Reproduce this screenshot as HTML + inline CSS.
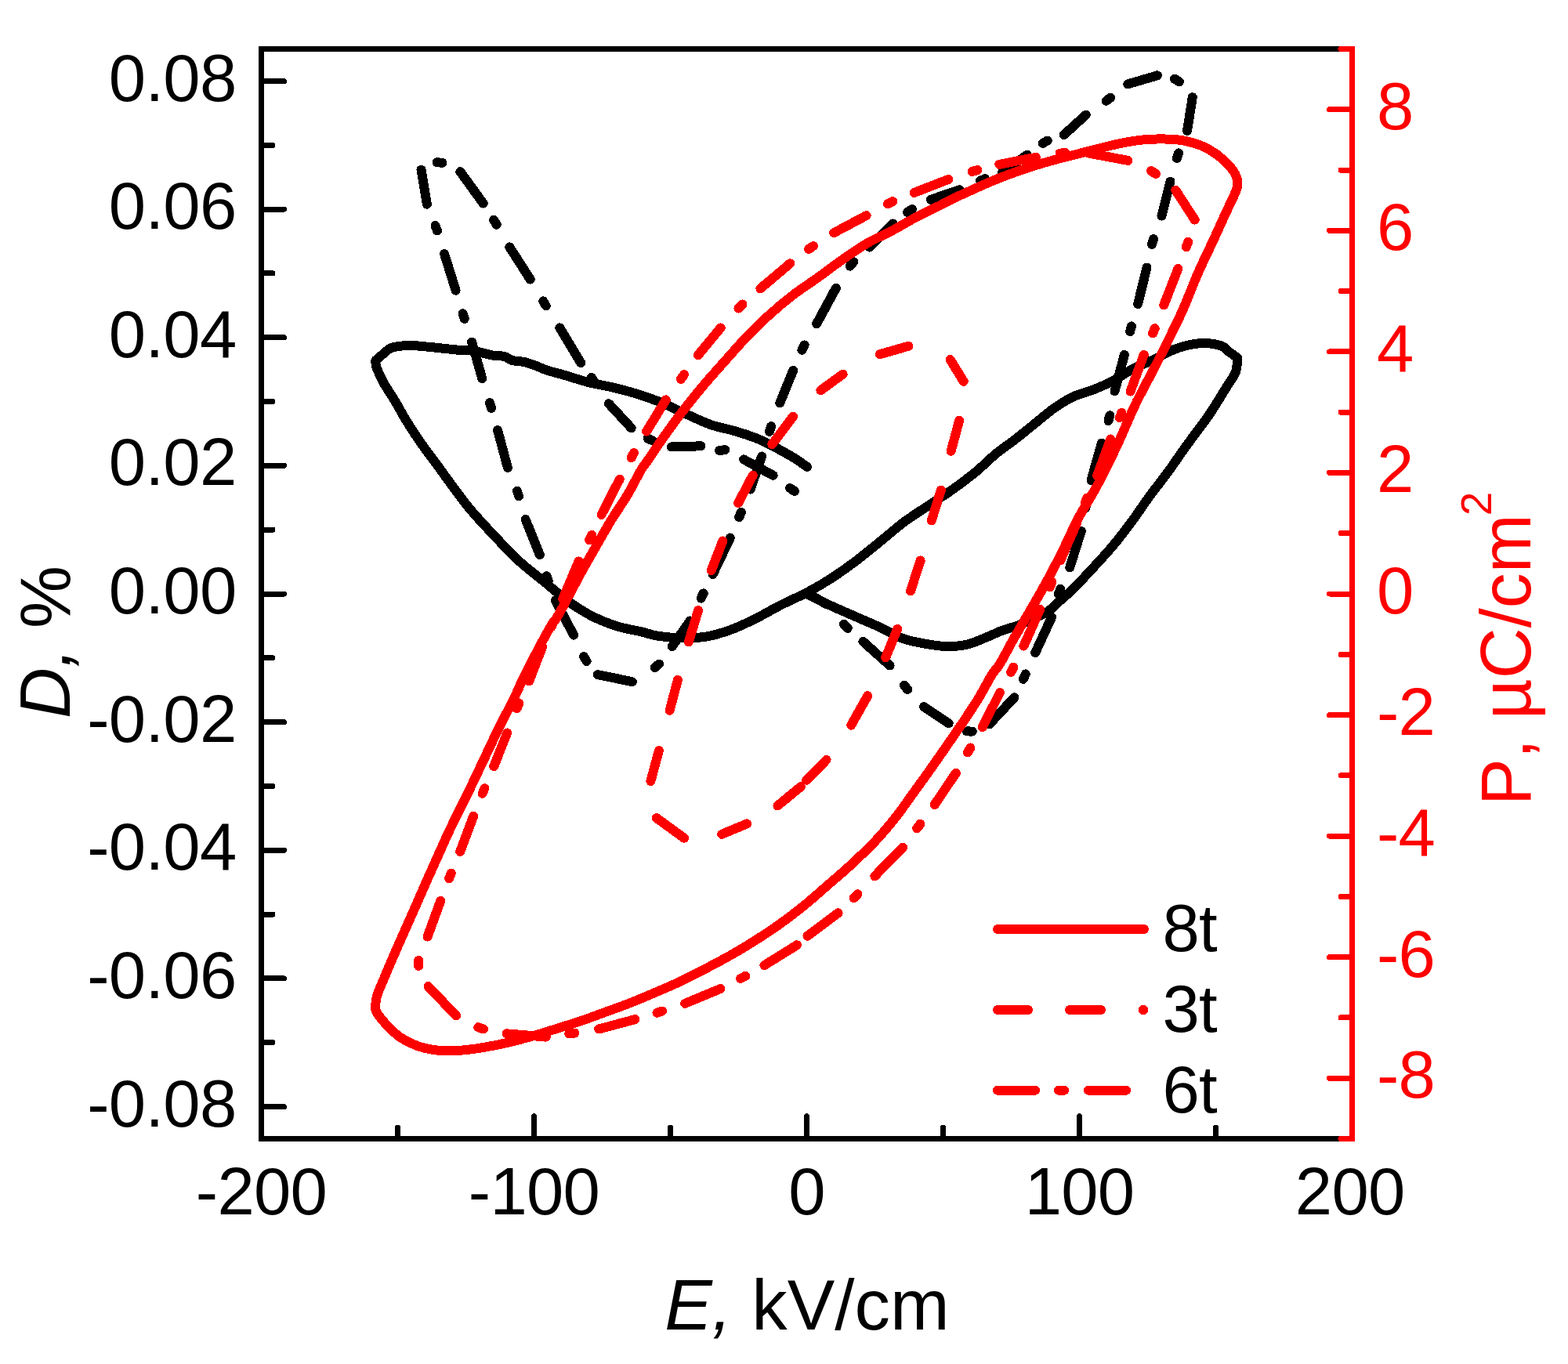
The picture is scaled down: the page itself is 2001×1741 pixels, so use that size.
<!DOCTYPE html>
<html lang="en">
<head>
<meta charset="utf-8">
<title>D and P versus E</title>
<style>
html,body{margin:0;padding:0;background:#fff;}
body{width:2001px;height:1741px;overflow:hidden;}
svg{display:block;}
text{font-family:"Liberation Sans", Arial, Helvetica, sans-serif;font-kerning:none;}
.tk{font-size:85px;letter-spacing:-0.7px;}
.tt{font-size:90px;}
.c{fill:none;stroke-width:12;stroke-linecap:round;stroke-linejoin:round;}
.a{fill:none;stroke-width:7;stroke-linecap:round;}
.i{font-style:italic;}
</style>
</head>
<body>
<svg width="2001" height="1741" viewBox="0 0 2001 1741" shape-rendering="crispEdges">
<rect width="2001" height="1741" fill="#fff"/>
<g class="c" stroke="#000">
<path d="M1029.5 758C1034.6 760.5 1049.7 768.2 1060 773C1070.3 777.8 1080.8 782.2 1091.2 786.8C1101.6 791.4 1112.1 795.7 1122.5 800.5C1132.9 805.3 1143.3 811.9 1153.7 815.5C1164.1 819.1 1175.5 820.8 1184.9 822.4C1194.3 824 1201.6 825.1 1209.9 825.1C1218.2 825.1 1226.6 824.4 1234.9 822.4C1243.2 820.4 1252.6 815.9 1259.9 813C1267.2 810.1 1271.9 807.4 1278.6 804.9C1285.3 802.4 1293.4 800.6 1300 798C1306.6 795.4 1312 792.3 1318 789.5C1324 786.7 1330.4 785 1336.2 781.2C1342 777.4 1347.6 771.3 1353 766.5C1358.4 761.7 1362.1 758.9 1368.7 752.4C1375.3 745.9 1383.8 736.8 1392.5 727.4C1401.2 718 1411.9 706.6 1420.6 696.2C1429.3 685.8 1437.2 675.3 1444.9 664.9C1452.6 654.5 1459.2 644.1 1466.8 633.7C1474.4 623.3 1482.9 612.9 1490.5 602.5C1498.1 592.1 1504.9 581.6 1512.4 571.2C1519.9 560.8 1529.7 548 1535.5 540C1541.3 532 1542 531.2 1547 523.5C1552 515.8 1560.5 501.8 1565.5 493.7C1570.5 485.6 1574.5 481.1 1576.8 475C1579.1 468.9 1578.9 459.8 1579.3 456.8C1577.4 455.4 1571.4 451.2 1568 448.7C1564.6 446.1 1564 443.3 1558.7 441.5C1553.4 439.7 1543.7 438.1 1536.2 438C1528.7 437.9 1520.6 439.6 1513.7 441.2C1506.8 442.8 1502.3 444.4 1495 447.5C1487.7 450.6 1478.3 456.1 1470 460C1461.7 463.9 1453.3 466.8 1445 471.2C1436.7 475.6 1428.3 481.8 1420 486.2C1411.7 490.6 1403.3 494.2 1395 497.5C1386.7 500.8 1378.3 502.2 1370 506.2C1361.7 510.1 1353.3 515.4 1345 521.2C1336.7 527 1328.3 534.5 1320 541.2C1311.7 547.9 1303.3 554.7 1295 561.2C1286.7 567.7 1278.3 573.1 1270 580C1261.7 586.9 1254 595.1 1245 602.5C1236 609.9 1226.2 617.3 1216.2 624.4C1206.2 631.5 1195.3 638.2 1184.9 645.2C1174.5 652.2 1164.1 658.5 1153.7 666.3C1143.3 674.1 1132.9 683.4 1122.5 691.8C1112.1 700.2 1101.6 709 1091.2 716.8C1080.8 724.6 1070.2 732.1 1060 738.7C1049.8 745.3 1040.5 750.6 1029.9 756.2C1019.3 761.8 1007 766.9 996.2 772.4C985.4 777.9 975.3 784.1 964.9 789.3C954.5 794.5 944.1 799.5 933.7 803.4C923.3 807.2 912.9 810.6 902.5 812.4C892.1 814.2 881.6 814.4 871.2 814.3C860.8 814.2 848.8 813.1 840 811.8C831.2 810.5 827.4 808.5 818.6 806.4C809.8 804.3 797.8 802.6 787.4 799.3C777 796 766.6 792.1 756.2 786.8C745.8 781.5 735.3 774.9 724.9 767.4C714.5 759.9 704.1 750.3 693.7 741.8C683.3 733.3 672.9 725.8 662.5 716.2C652.1 706.6 641.6 695.3 631.2 684.3C620.8 673.3 609.7 661.6 600 650C590.3 638.4 580.1 624 573.1 614.6C566.1 605.2 563.2 600.6 558.1 593.7C553 586.8 547.4 579.8 542.5 573C537.6 566.2 533.1 559.6 528.7 553C524.3 546.4 520.4 540.1 516.2 533.1C512 526.1 508.1 518.5 503.7 511.2C499.3 503.9 493.9 496.3 490 489.3C486.1 482.3 482.3 473.9 480.5 469C478.7 464.1 479.6 461.5 479.4 460C481.4 458.3 487.8 452.7 491.2 450C494.6 447.3 494.8 445.2 500 443.7C505.2 442.2 514.2 441.1 522.5 441C530.8 440.9 540 442.2 550 443.1C560 444 574.5 445.8 582.4 446.5C590.3 447.2 592.8 446.8 597.4 447.2C602 447.6 604.7 447.9 609.9 449C615.1 450.1 623.1 452.5 628.7 453.5C634.3 454.5 639.5 453.9 643.7 455C647.9 456.1 649.4 458.8 653.7 460C658 461.2 664.3 461 669.3 462.1C674.3 463.2 678.9 465.1 683.6 466.8C688.3 468.5 693 471 697.4 472.5C701.8 474 706.2 475 710 476C713.8 477 713.1 476.7 720 478.7C726.9 480.7 740.8 485.5 751.2 488.1C761.6 490.8 772.1 492.1 782.5 494.6C792.9 497.1 803.3 499.8 813.7 503.1C824.1 506.4 834.5 510 844.9 514.3C855.3 518.6 865.8 524.1 876.2 528.7C886.6 533.4 897 538.6 907.4 542.2C917.8 545.8 928.2 547.3 938.6 550.5C949 553.7 958.1 556.1 970 561.4C981.9 566.7 1000 576.7 1010 582.5C1020 588.3 1026.7 593.8 1030 596"/>
<path d="M1036.4 760.3L1054.6 771.2M1077 796.9L1081.8 801.9M1101.4 818.9L1135.6 849.5M1153.8 874.6L1158.2 880M1179 902.1L1210.6 923.2M1233.8 933.4L1240.8 933.6M1262.6 924.4L1294.5 890.2M1305.8 866.8L1308.8 860.4M1321.2 833.1L1342.1 787.9M1350.8 758.3L1353.2 751.7M1365.2 724.5L1379.8 677.9M1385.3 648.4L1386.7 641.6M1392.5 613.2L1405.9 565.5M1414.5 537.1L1416.3 530.3M1422.5 499.3L1434.9 452.8M1442.1 423.2L1443.9 416.4M1452.1 388.1L1463.5 341.6M1470 312L1472 305.2M1482.5 275.6L1493.5 231.7M1501.9 202L1504.1 195.4M1515 167L1521.8 124.2M1504.9 104.3L1498.9 100.7M1476.9 96.3L1439.2 107.4M1417.2 124.6L1411.6 128.8M1385.8 146.5L1357.8 172.1M1336.8 179.5L1330.6 182.9M1310.8 197.7L1279.1 219.7M1257.2 228.2L1250.8 230.8M1224.5 242.2L1187.9 254.8M1164 267.1L1158 270.9M1139.6 285.4L1109.8 315.6M1089.2 334.2L1084.8 339.6M1066.8 367.8L1042.2 413.2M1026.6 440.5L1023.4 446.7M1012.2 472.8L995.2 514.5M984.1 544.2L981.9 550.8M972.2 582.5L957.6 624.5M945.8 653.8L943.2 660.2M931.8 686.5L909.7 733.1M897.7 757.4L894.7 763.6M880.7 792.4L857.7 825.1M841.1 847.5L835.9 852.1M806.8 870.2L762.8 861.1M748.6 844L745 838M732.1 810.6L708.8 766.4M699.7 741.9L697.5 735.3M688.8 708.1L670.6 662.9M662.1 633.3L659.9 626.7M647.9 597L635.1 549.2M627 520.9L625 514.1M615.3 483.1L602.1 436.5M592.7 406.9L590.7 400.3M581.6 370.6L567.1 324.2M557.9 294.5L555.5 287.9M544.9 260.7L537.5 216.7M557.5 207.3L564.5 207.7M587.3 219.1L616.7 259.6M630.2 280.7L633.8 286.7M650.3 315.4L676.7 356.6M693.2 384.4L696.8 390.4M714.3 418.4L741.3 463.2M754.6 481.9L758.6 487.7M776.9 515.2L805.7 546.4M826.6 559.5L833 562.5M856.7 570.5L894.5 569.3M918.2 575.1L925.2 574.1M949.1 586.4L986.6 606.8M1008.1 623L1013.9 627"/>
</g>
<g class="c" stroke="#ff0000">
<path d="M479 1285C479.3 1282.7 479.4 1276.6 481 1271.2C482.6 1265.8 485 1260.8 488.5 1252.5C492 1244.2 497.3 1231.6 501.8 1221.2C506.3 1210.8 510.8 1200.8 515.6 1190C520.4 1179.2 525.8 1167 530.6 1156.2C535.4 1145.4 539.7 1135.3 544.3 1124.9C548.9 1114.5 553.6 1104.1 558.3 1093.7C563 1083.3 567.5 1072.9 572.4 1062.5C577.3 1052.1 582.6 1041.6 587.7 1031.2C592.8 1020.8 597 1012.5 603 1000C609 987.5 617.8 968.7 623.7 956.2C629.7 943.7 633.5 935.3 638.7 924.9C643.9 914.5 649.8 904.1 654.9 893.7C660 883.3 664.2 872.9 669.3 862.5C674.4 852.1 680 841.6 685.5 831.2C691 820.8 698.1 807.3 702.4 800C706.7 792.7 706.9 794.7 711.2 787.4C715.5 780.1 722.5 766.6 728.1 756.2C733.7 745.8 739.1 735.3 744.9 724.9C750.7 714.5 756.7 704.1 762.7 693.7C768.7 683.3 774.5 672.9 780.9 662.5C787.3 652.1 794.9 641.6 801.1 631.2C807.3 620.8 813.7 607.3 818 600C822.3 592.7 821.8 594.7 826.8 587.4C831.8 580.1 840.7 566.6 848.1 556.2C855.5 545.8 863.2 535.3 871.2 524.9C879.2 514.5 887.5 504.1 896.2 493.7C904.9 483.3 914.3 472.9 923.6 462.5C932.9 452.1 942.2 441.2 951.8 431.2C961.4 421.2 971.1 411.6 981.2 402.4C991.3 393.2 1002.1 384.2 1012.5 376.2C1022.9 368.2 1033.3 361.8 1043.7 354.3C1054.1 346.9 1064.5 338.8 1074.9 331.5C1085.3 324.2 1095.8 316.8 1106.2 310.7C1116.6 304.6 1127 300.5 1137.4 295C1147.8 289.5 1158.2 283 1168.6 277.5C1179 272 1192.9 265.6 1200 262C1207.1 258.4 1204.1 259.4 1211.2 256C1218.3 252.6 1232.1 246.2 1242.5 241.5C1252.9 236.8 1263.3 232.2 1273.7 228C1284.1 223.8 1294.5 220.1 1304.9 216.5C1315.3 212.9 1325.8 209.7 1336.2 206.7C1346.6 203.7 1357 201.2 1367.4 198.5C1377.8 195.8 1388.2 193.2 1398.6 190.6C1409 188 1419.3 185.1 1430 183C1440.7 180.9 1450.8 178.9 1462.5 178.1C1474.2 177.3 1489.6 177.3 1500 178.1C1510.4 178.9 1517.7 180.9 1525 183.1C1532.3 185.3 1537.5 187.5 1543.7 191.2C1549.9 194.8 1557.3 200.4 1562.4 205C1567.5 209.6 1571.7 214.9 1574.5 219C1577.3 223.1 1578.2 227.8 1579 229.5C1579 231 1579.8 234.9 1579 238.5C1578.2 242.1 1576.7 245.1 1574 251.2C1571.3 257.3 1566.7 266.5 1562.8 275C1558.9 283.5 1554.5 293.4 1550.4 302.4C1546.3 311.3 1541.9 320.4 1538 328.7C1534.1 337 1532.3 340.5 1527.2 352.4C1522.1 364.3 1515.8 381.6 1507.4 400C1499 418.4 1486.5 443.3 1476.8 462.5C1467.1 481.7 1458.2 497.1 1449.5 515C1440.8 532.9 1433.2 552.5 1424.9 570C1416.7 587.5 1408.1 604.8 1400 620C1391.9 635.2 1382.7 649.1 1376.2 661.2C1369.7 673.3 1366.3 682.1 1361.2 692.5C1356.1 702.9 1351 713.3 1345.6 723.7C1340.2 734.1 1334.5 744.5 1328.7 754.9C1322.9 765.3 1316.6 775.8 1310.6 786.2C1304.6 796.6 1298.2 807.3 1292.5 817.4C1286.8 827.5 1280.7 839.7 1276.2 847C1271.8 854.3 1270.5 853.6 1265.8 861.2C1261.1 868.8 1254.4 882.1 1248 892.5C1241.6 902.9 1234.6 913.3 1227.6 923.7C1220.6 934.1 1213.4 944.5 1206.2 954.9C1199 965.3 1191.7 975.8 1184.3 986.2C1176.9 996.6 1168.5 1008.1 1161.8 1017.4C1155.1 1026.7 1151.2 1032.9 1144 1042C1136.8 1051.1 1128 1061.8 1118.6 1071.9C1109.2 1082 1097.8 1092.8 1087.4 1102.5C1077 1112.2 1066.6 1120.9 1056.2 1129.9C1045.8 1139 1035.3 1148.4 1024.9 1156.8C1014.5 1165.2 1004.1 1173.1 993.7 1180.5C983.3 1187.9 972.9 1194.6 962.5 1201.2C952.1 1207.8 941.7 1213.9 931.2 1219.9C920.7 1225.9 909.9 1231.5 899.3 1237C888.7 1242.5 877.9 1248.1 867.4 1253.1C856.9 1258.1 846.6 1262.3 836.2 1266.8C825.8 1271.3 815.3 1275.8 804.9 1279.9C794.5 1284 784.1 1287.6 773.7 1291.4C763.3 1295.2 752.9 1299.2 742.5 1302.7C732.1 1306.2 721.6 1309.4 711.2 1312.7C700.8 1316 690.9 1319.3 680 1322.4C669.1 1325.5 655.9 1328.9 646.1 1331.2C636.3 1333.5 629.5 1334.8 621.2 1336.2C612.9 1337.7 604.5 1339 596.2 1339.9C587.9 1340.8 578.5 1341.5 571.2 1341.5C563.9 1341.5 558.9 1341 552.4 1339.9C545.9 1338.8 539.3 1337.4 532.5 1334.9C525.7 1332.4 517.6 1328.5 511.8 1324.7C506 1321 501.9 1316.6 497.5 1312.4C493.1 1308.2 488.6 1303 485.6 1299.3C482.6 1295.6 480.8 1292.4 479.7 1290C478.6 1287.6 479.1 1285.8 479 1285"/>
<path d="M534.2 1232.9L534.2 1225.9M545.6 1195.5L562.2 1149.9M573.1 1121.3L575.7 1114.7M587.2 1086.9L604.2 1041.7M615.7 1012.7L618.3 1006.3M630.2 978.2L647.2 935.5M659.6 904.2L662.4 897.8M675.2 869.5L692.2 825.5M703.6 800.2L706.4 793.8M718.2 764.5L738.5 716.5M752.1 689.1L755.1 682.9M767.5 657L790.8 611.6M805.6 584.3L809 578.1M825.1 550.6L849.7 510.4M869 483.8L873 478.2M890.8 453.3L919.7 418.4M942.5 393.5L947.5 388.5M970.4 368.3L1008.3 336.3M1032.1 318L1037.9 314M1064.1 297.2L1105.6 275.1M1132.8 260.2L1139.2 257.2M1166.5 246L1210.5 228.9M1240.6 219L1247.4 217M1275.3 209.9L1321.8 200.8M1352.5 195.7L1359.5 195.1M1389.2 195.5L1439.5 204.9M1469 218.1L1475 221.9M1500.3 242.8L1524.7 280.6M1516.2 308.7L1513.8 315.3M1503.4 342.9L1485.2 389.5M1473.7 419.1L1471.1 425.5M1459.8 452.8L1442.6 499.5M1431.3 526.8L1428.7 533.2M1417.2 560.5L1400.2 607M1387.4 635.5L1384.6 641.9M1373.8 668.5L1353.2 715.5M1342.5 742.8L1339.9 749.2M1327.2 777.9L1306.4 824.5M1293.3 851.7L1290.1 857.9M1276 884L1253.9 928.1M1238.4 954.5L1234.8 960.5M1220 986.6L1192.6 1027.1M1174.4 1051.7L1170.2 1057.3M1152.1 1081.6L1116.3 1118.3M1094.5 1141.2L1089.5 1146.2M1069.6 1165.3L1030.4 1194.7M1017 1206.3L975.4 1232.1M951.3 1245.8L945.1 1249M919.5 1262L874.2 1280.8M845.1 1290.5L838.5 1292.7M810.5 1301.1L764.1 1313.5M733.3 1318.5L726.3 1319.5M696.9 1323.6L646.5 1319.3M616.9 1313.5L610.3 1311.1M582.1 1296.4L546.5 1259"/>
<path d="M837.7 1044L873.1 1069.7M921.2 1064.8L953.2 1051.4M992.4 1028.4L1022 1004M1029.1 995.8L1054.6 969.9M1086.2 925.6L1107.2 888.2M1130.2 839.3L1145.2 802.9M1162 754.5L1174.6 715.5M1188.7 664.5L1200.9 625.5M1213.7 575.7L1224.2 536.7M1229.7 486.9L1212.6 459M1159.5 441.7L1122.9 452.2M1075.6 477.6L1047.4 498.2M1012.1 531.6L985.3 567.1M960.8 606.6L942.2 642M922.3 690.5L907.7 728.1M891.1 779.1L878.8 819.5M864.9 867.8L854.6 906.8M840.9 958L830.4 997"/>
</g>
<g class="c" stroke="#ff0000">
<path d="M1273 1186H1460"/>
<path d="M1273 1289H1312M1365 1289H1405M1458.5 1289H1459.5"/>
<path d="M1273 1391.7H1321M1351 1391.7H1358M1389 1391.7H1437"/>
</g>
<g class="tk" fill="#000">
<text x="1483.5" y="1213.5">8t</text>
<text x="1483.5" y="1317">3t</text>
<text x="1483.5" y="1420">6t</text>
</g>
<g class="a" stroke="#000">
<path d="M333.5 1412.5h29M333.5 1330.7h14.5M333.5 1248.9h29M333.5 1167.1h14.5M333.5 1085.2h29M333.5 1003.4h14.5M333.5 921.6h29M333.5 839.8h14.5M333.5 758h29M333.5 676.2h14.5M333.5 594.4h29M333.5 512.6h14.5M333.5 430.8h29M333.5 348.9h14.5M333.5 267.1h29M333.5 185.3h14.5M333.5 103.5h29M507.5 1453.5v-14.5M681.5 1453.5v-29M855.5 1453.5v-14.5M1029.5 1453.5v-29M1203.5 1453.5v-14.5M1377.5 1453.5v-29M1551.5 1453.5v-14.5"/>
<path stroke-linecap="square" d="M333.5 62.5H1705.5 M333.5 1453.5H1705.5 M333.5 62.5V1453.5"/>
</g>
<g class="a" stroke="#ff0000">
<path d="M1725.5 1453.5h-14.5M1725.5 1376.2h-29M1725.5 1298.9h-14.5M1725.5 1221.7h-29M1725.5 1144.4h-14.5M1725.5 1067.1h-29M1725.5 989.8h-14.5M1725.5 912.6h-29M1725.5 835.3h-14.5M1725.5 758h-29M1725.5 680.7h-14.5M1725.5 603.4h-29M1725.5 526.2h-14.5M1725.5 448.9h-29M1725.5 371.6h-14.5M1725.5 294.3h-29M1725.5 217.1h-14.5M1725.5 139.8h-29M1725.5 62.5h-14.5"/>
<path stroke-linecap="square" d="M1725.5 62.5V1453.5"/>
</g>
<g class="tk" fill="#000" text-anchor="end">
<text x="301.5" y="128.5">0.08</text>
<text x="301.5" y="292.1">0.06</text>
<text x="301.5" y="455.8">0.04</text>
<text x="301.5" y="619.4">0.02</text>
<text x="301.5" y="783">0.00</text>
<text x="301.5" y="946.6">-0.02</text>
<text x="301.5" y="1110.2">-0.04</text>
<text x="301.5" y="1273.9">-0.06</text>
<text x="301.5" y="1437.5">-0.08</text>
</g>
<g class="tk" fill="#000" text-anchor="middle">
<text x="333.5" y="1550">-200</text>
<text x="681.5" y="1550">-100</text>
<text x="1029.5" y="1550">0</text>
<text x="1377.5" y="1550">100</text>
<text x="1722.7" y="1550">200</text>
</g>
<g class="tk" fill="#ff0000">
<text x="1757" y="164.8">8</text>
<text x="1757" y="319.3">6</text>
<text x="1757" y="473.9">4</text>
<text x="1757" y="628.4">2</text>
<text x="1757" y="783">0</text>
<text x="1757" y="937.6">-2</text>
<text x="1757" y="1092.1">-4</text>
<text x="1757" y="1246.7">-6</text>
<text x="1757" y="1401.2">-8</text>
</g>
<g class="tt">
<text x="848.3" y="1696.6" fill="#000" font-size="90.8"><tspan class="i">E,</tspan> kV/cm</text>
<text transform="translate(88.9 917) rotate(-90)" fill="#000"><tspan class="i">D,</tspan> %</text>
<text transform="translate(1953 1028.2) rotate(-90)" fill="#ff0000">P, µC/cm<tspan dx="-2" dy="-50" font-size="55">2</tspan></text>
</g>
</svg>
</body>
</html>
